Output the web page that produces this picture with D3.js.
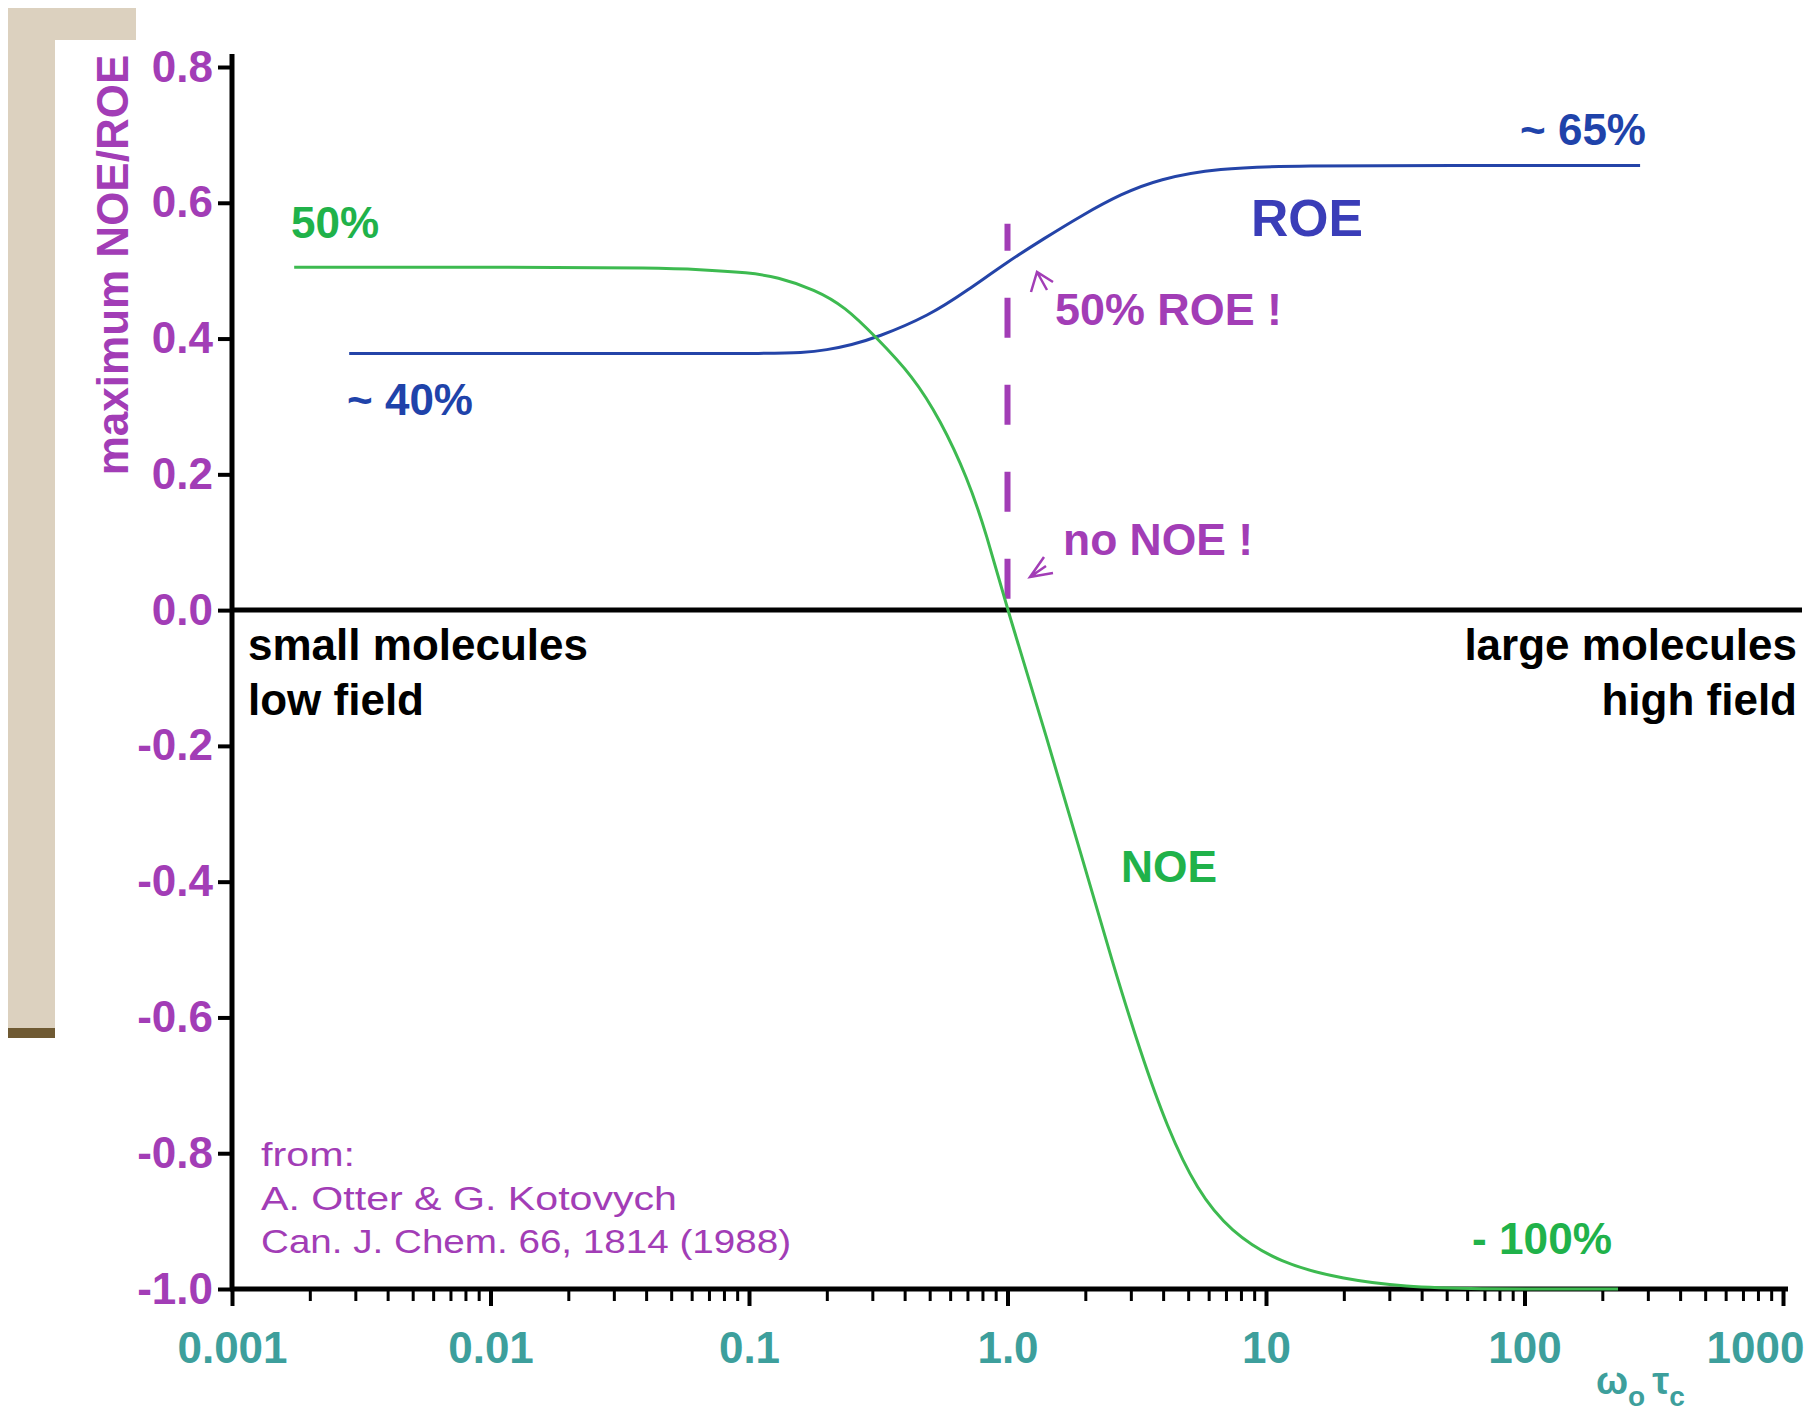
<!DOCTYPE html>
<html><head><meta charset="utf-8">
<script src="https://cdn.jsdelivr.net/npm/d3@7"></script>
<style>
html,body{margin:0;padding:0;background:#fff;}
svg{display:block;}
text{font-family:"Liberation Sans", Arial, Helvetica, sans-serif;}
</style></head><body>
<svg id="chart" width="1808" height="1413"></svg>
<script>
// ---- data ----
const noeX = [0.00174, 0.005, 0.02, 0.04, 0.065, 0.1, 0.128, 0.18, 0.235, 0.31, 0.43, 0.55, 0.70, 0.83, 1.0, 1.42, 1.91, 2.56, 3.26, 4.14, 5.41, 7.26, 11.3, 20, 35, 60, 230];
const noeY = [0.505, 0.505, 0.505, 0.504, 0.502, 0.497, 0.491, 0.472, 0.447, 0.402, 0.345, 0.280, 0.195, 0.112, 0.0, -0.188, -0.355, -0.522, -0.650, -0.762, -0.855, -0.915, -0.962, -0.986, -0.997, -1.0, -1.0];
const roeX = [0.00284, 0.01, 0.05, 0.12, 0.16, 0.20, 0.25, 0.31, 0.50, 0.70, 1.0, 1.38, 1.95, 2.75, 3.86, 6.44, 13.5, 50, 280];
const roeY = [0.378, 0.378, 0.378, 0.378, 0.379, 0.383, 0.391, 0.401, 0.434, 0.471, 0.513, 0.547, 0.582, 0.613, 0.635, 0.651, 0.655, 0.655, 0.655];
const xTickValues = [0.001, 0.01, 0.1, 1, 10, 100, 1000];
const xTickLabels = ["0.001", "0.01", "0.1", "1.0", "10", "100", "1000"];
const yTickValues = [0.8, 0.6, 0.4, 0.2, 0.0, -0.2, -0.4, -0.6, -0.8, -1.0];
const yTickLabels = ["0.8", "0.6", "0.4", "0.2", "0.0", "-0.2", "-0.4", "-0.6", "-0.8", "-1.0"];
const dividerX = 1.0;          // ω0τc where NOE vanishes
const dividerTop = 0.569;      // top of dashed marker

// ---- colors ----
const PURPLE = "#a23db6", TEAL = "#3d9f9c", GREEN_LINE = "#3dba50", GREEN_TXT = "#20b24a",
      BLUE_LINE = "#2444a8", BLUE_TXT = "#1f43aa", ROE_TXT = "#3a3db8";

const svg = d3.select("#chart");
const x = d3.scaleLog().domain([0.001, 1000]).range([232, 1783]);
const y = d3.scaleLinear().domain([-1, 0.8]).range([1289, 67]);

// decorative slide frame
svg.append("rect").attr("x", 8).attr("y", 8).attr("width", 128).attr("height", 32).attr("fill", "#dcd1bf");
svg.append("rect").attr("x", 8).attr("y", 8).attr("width", 47).attr("height", 1020).attr("fill", "#dcd1bf");
svg.append("rect").attr("x", 8).attr("y", 1028).attr("width", 47).attr("height", 10).attr("fill", "#6f5a33");

// ---- y axis ----
const yAxis = d3.axisLeft(y).tickValues(yTickValues).tickFormat((d, i) => yTickLabels[i]).tickSize(14).tickPadding(5);
const gy = svg.append("g").attr("transform", `translate(${x(0.001)},0)`).call(yAxis);
gy.select(".domain").remove();
gy.selectAll(".tick line").attr("stroke", "#000").attr("stroke-width", 4);
gy.selectAll(".tick text").attr("fill", PURPLE).attr("font-size", 44).attr("font-weight", "bold")
  .attr("font-family", '"Liberation Sans", Arial, sans-serif');
svg.append("line").attr("x1", x(0.001)).attr("x2", x(0.001)).attr("y1", 54).attr("y2", y(-1) + 2)
  .attr("stroke", "#000").attr("stroke-width", 5);

// ---- x axis (bottom, log) ----
const minorTicks = [];
for (let e = -3; e < 3; e++) for (let k = 2; k <= 9; k++) minorTicks.push(k * Math.pow(10, e));
const gxMinor = svg.append("g").attr("transform", `translate(0,${y(-1)})`)
  .call(d3.axisBottom(x).tickValues(minorTicks).tickSize(12).tickFormat(""));
gxMinor.select(".domain").remove();
gxMinor.selectAll(".tick line").attr("stroke", "#000").attr("stroke-width", 3);
const gx = svg.append("g").attr("transform", `translate(0,${y(-1)})`)
  .call(d3.axisBottom(x).tickValues(xTickValues).tickSize(17).tickFormat((d, i) => xTickLabels[i]));
gx.select(".domain").remove();
gx.selectAll(".tick line").attr("stroke", "#000").attr("stroke-width", 4);
gx.selectAll(".tick text").attr("fill", TEAL).attr("font-size", 44).attr("font-weight", "bold")
  .attr("font-family", '"Liberation Sans", Arial, sans-serif')
  .attr("y", 74).attr("dy", null)
  .attr("dx", (d, i) => i === xTickValues.length - 1 ? -28 : 0);
svg.append("line").attr("x1", x(0.001) - 2).attr("x2", x(1000) + 5).attr("y1", y(-1)).attr("y2", y(-1))
  .attr("stroke", "#000").attr("stroke-width", 5);

// zero line
svg.append("line").attr("x1", x(0.001)).attr("x2", 1802).attr("y1", y(0)).attr("y2", y(0))
  .attr("stroke", "#000").attr("stroke-width", 5);

// dashed marker at ω0τc = 1
svg.append("line").attr("x1", x(dividerX)).attr("x2", x(dividerX))
  .attr("y1", y(dividerTop)).attr("y2", y(0))
  .attr("stroke", PURPLE).attr("stroke-width", 6)
  .attr("stroke-dasharray", "40,47").attr("stroke-dashoffset", 13);

// ---- curves ----
const line = d3.line().x(d => x(d[0])).y(d => y(d[1])).curve(d3.curveBasis);
svg.append("path").datum(roeX.map((v, i) => [v, roeY[i]])).attr("d", line)
  .attr("fill", "none").attr("stroke", BLUE_LINE).attr("stroke-width", 3);
svg.append("path").datum(noeX.map((v, i) => [v, noeY[i]])).attr("d", line)
  .attr("fill", "none").attr("stroke", GREEN_LINE).attr("stroke-width", 3);

// ---- text annotations ----
function label(txt, px, py, opts) {
  const t = svg.append("text").attr("x", px).attr("y", py).text(txt)
    .attr("fill", opts.fill).attr("font-size", opts.size || 44)
    .attr("font-weight", opts.weight || "bold")
    .attr("text-anchor", opts.anchor || "start");
  if (opts.len) t.attr("textLength", opts.len).attr("lengthAdjust", "spacingAndGlyphs");
  return t;
}
label("50%", 291, 238, {fill: GREEN_TXT});
label("~ 40%", 347, 415, {fill: BLUE_TXT});
label("~ 65%", 1520, 145, {fill: BLUE_TXT});
label("ROE", 1251, 236, {fill: ROE_TXT, size: 52, len: 112});
label("50% ROE !", 1055, 325, {fill: PURPLE, size: 44, len: 227});
label("no NOE !", 1063, 555, {fill: PURPLE, size: 44, len: 190});
label("NOE", 1121, 882, {fill: GREEN_TXT, size: 44, len: 96});
label("- 100%", 1472, 1254, {fill: GREEN_TXT, size: 44, len: 140});
label("small molecules", 248, 660, {fill: "#000", len: 340});
label("low field", 248, 715, {fill: "#000"});
label("large molecules", 1797, 660, {fill: "#000", anchor: "end"});
label("high field", 1797, 715, {fill: "#000", anchor: "end"});
label("from:", 261, 1166, {fill: PURPLE, size: 34, weight: "normal", len: 94});
label("A. Otter & G. Kotovych", 261, 1210, {fill: PURPLE, size: 34, weight: "normal", len: 416});
label("Can. J. Chem. 66, 1814 (1988)", 261, 1253, {fill: PURPLE, size: 34, weight: "normal", len: 530});

// small arrowheads
svg.append("path").attr("d", "M1031,292 L1037,272 L1053,282 M1037,272 L1047,290")
  .attr("fill", "none").attr("stroke", PURPLE).attr("stroke-width", 2.5);
svg.append("path").attr("d", "M1044,557 L1030,577 L1053,573 M1030,577 L1046,566")
  .attr("fill", "none").attr("stroke", PURPLE).attr("stroke-width", 2.5);

// y-axis title
svg.append("text").attr("transform", "translate(128,265) rotate(-90)")
  .attr("text-anchor", "middle").attr("fill", PURPLE).attr("font-size", 44).attr("font-weight", "bold")
  .text("maximum NOE/ROE");

// x-axis title ω0 τc
const xt = svg.append("text").attr("x", 1596).attr("y", 1394).attr("fill", TEAL).attr("font-weight", "bold")
  .attr("font-family", '"DejaVu Sans", "Liberation Sans", sans-serif');
xt.append("tspan").attr("font-size", 38).text("ω");
xt.append("tspan").attr("font-size", 28).attr("dy", 12).text("o");
xt.append("tspan").attr("font-size", 38).attr("dy", -12).attr("dx", 7).text("τ");
xt.append("tspan").attr("font-size", 28).attr("dy", 12).text("c");
</script>
</body></html>
